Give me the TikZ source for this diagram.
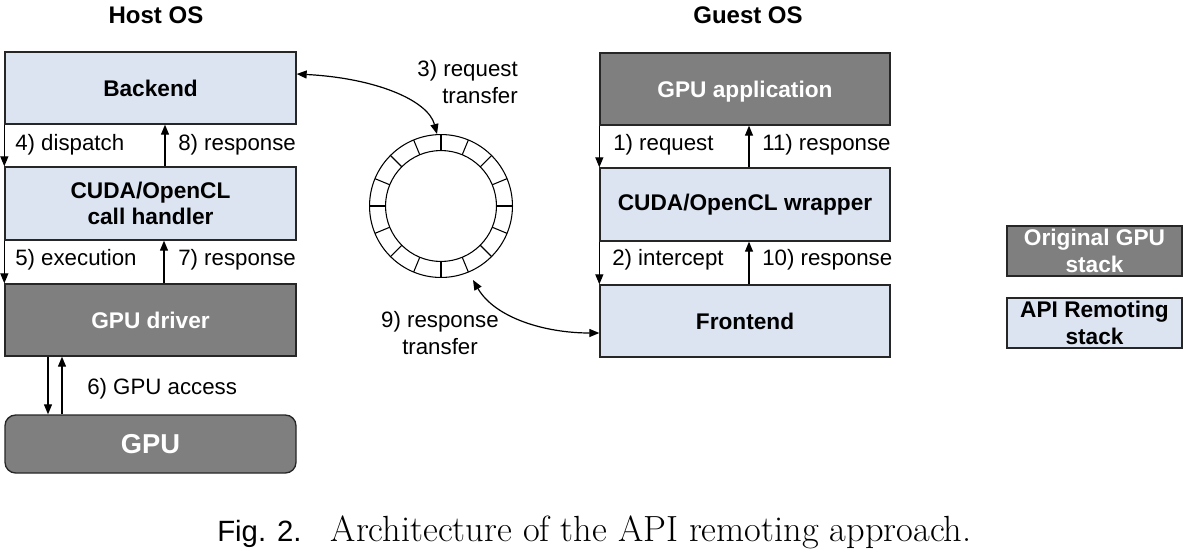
\documentclass[tikz,border=0pt]{standalone}
\usepackage{fontspec}
\setmainfont{Liberation Sans}
\newfontfamily\capserif{Latin Modern Roman}
\usetikzlibrary{arrows.meta,calc}
\definecolor{lblue}{HTML}{DCE4F2}
\definecolor{dgray}{HTML}{7F7F7F}
\definecolor{bord}{HTML}{262626}
\begin{document}
\begin{tikzpicture}[x=0.75pt,y=-0.75pt,
  box/.style={draw=bord,line width=1pt,minimum width=218.25pt,inner sep=0pt,align=center,font=\fontsize{17}{20}\selectfont\bfseries},
  apibox/.style={box,fill=lblue,text=black},
  origbox/.style={box,fill=dgray,text=white},
  lbl/.style={font=\fontsize{16.7}{20}\selectfont,inner sep=0pt,align=center},
  ttl/.style={font=\fontsize{18}{21}\selectfont\bfseries,inner sep=0pt},
  arr/.style={line width=0.9pt,-{Triangle[length=7.5pt,width=6pt]}},
  darr/.style={line width=0.9pt,{Triangle[length=7.5pt,width=6pt]}-{Triangle[length=7.5pt,width=6pt]}},
  ring/.style={line width=0.8pt,draw=black}]
\useasboundingbox (0,0) rectangle (1188,550);

% titles
\node[ttl] (host) at (156,15) {Host OS};
\node[ttl] (guest) at (748,15) {Guest OS};

% host stack
\node[apibox,minimum height=54pt] (backend) at (150.5,88) {Backend};
\node[apibox,minimum height=54.75pt] (handler) at (150.5,203.5) {CUDA/OpenCL\\call handler};
\node[origbox,minimum height=54pt] (driver) at (150.5,320) {GPU driver};
\node[origbox,minimum height=43.5pt,rounded corners=8pt,font=\fontsize{20.5}{24}\selectfont\bfseries] (gpu) at (150.5,444) {GPU};

% guest stack
\node[origbox,minimum width=217.5pt,minimum height=54pt,text depth=0pt] (app) at (745,89) {GPU application};
\node[apibox,minimum width=217.5pt,minimum height=54.75pt] (wrapper) at (745,204.5) {CUDA/OpenCL wrapper};
\node[apibox,minimum width=217.5pt,minimum height=54pt] (frontend) at (745,321) {Frontend};

% legend
\node[origbox,minimum width=131.25pt,minimum height=37.5pt] (leg1) at (1094.5,251) {Original GPU\\stack};
\node[apibox,minimum width=131.25pt,minimum height=37.5pt] (leg2) at (1094.5,323) {API Remoting\\stack};

% host arrows
\draw[arr] (backend.south west) -- (handler.north west);
\draw[arr] (handler.north -| 165,0) -- (backend.south -| 165,0);
\node[lbl,anchor=west] (l4) at (15,145) {4) dispatch};
\node[lbl,anchor=west] (l8) at (178,145) {8) response};
\draw[arr] (handler.south west) -- (driver.north west);
\draw[arr] (driver.north -| 164,0) -- (handler.south -| 164,0);
\node[lbl,anchor=west] (l5) at (15,260) {5) execution};
\node[lbl,anchor=west] (l7) at (178,260) {7) response};
\draw[arr] (driver.south -| 48,0) -- (gpu.north -| 48,0);
\draw[arr] (gpu.north -| 62,0) -- (driver.south -| 62,0);
\node[lbl,anchor=west] (l6) at (87,389) {6) GPU access};

% guest arrows
\draw[arr] (app.south west) -- (wrapper.north west);
\draw[arr] (wrapper.north -| 749,0) -- (app.south -| 749,0);
\node[lbl,anchor=west] (l1) at (613,145) {1) request};
\node[lbl,anchor=west] (l11) at (762,145) {11) response};
\draw[arr] (wrapper.south west) -- (frontend.north west);
\draw[arr] (frontend.north -| 749,0) -- (wrapper.south -| 749,0);
\node[lbl,anchor=west] (l2) at (612,260) {2) intercept};
\node[lbl,anchor=west] (l10) at (762,260) {10) response};

% ring buffer
\coordinate (rc) at (441,206);
\draw[ring] (rc) circle[radius=53.6pt];
\draw[ring] (rc) circle[radius=41.6pt];
\foreach \a in {0,22.5,...,337.5}{
  \draw[ring] ($(rc)+(\a:41.6pt)$) -- ($(rc)+(\a:53.6pt)$);
}
\coordinate (ringtop) at (437,134);
\coordinate (ringbr) at (473,280);

% transfers
\coordinate (bkE) at (backend.east |- 0,74);
\draw[darr] (bkE) .. controls (375,78) and (428,100) .. (ringtop);
\node[lbl,anchor=east,align=right] (l3) at (518,82) {3) request\\transfer};
\coordinate (feW) at (frontend.west |- 0,333);
\draw[darr] (ringbr) .. controls (495,318) and (545,333) .. (feW);
\node[lbl] (l9) at (440,333) {9) response\\transfer};

% caption
\node[inner sep=0pt,anchor=base west] (cap) at (217,541) {{\fontsize{22}{26}\selectfont Fig. 2.}\hspace{22pt}{\capserif\fontsize{27.3}{30}\selectfont Architecture of the API remoting approach.}};
\end{tikzpicture}
\end{document}
